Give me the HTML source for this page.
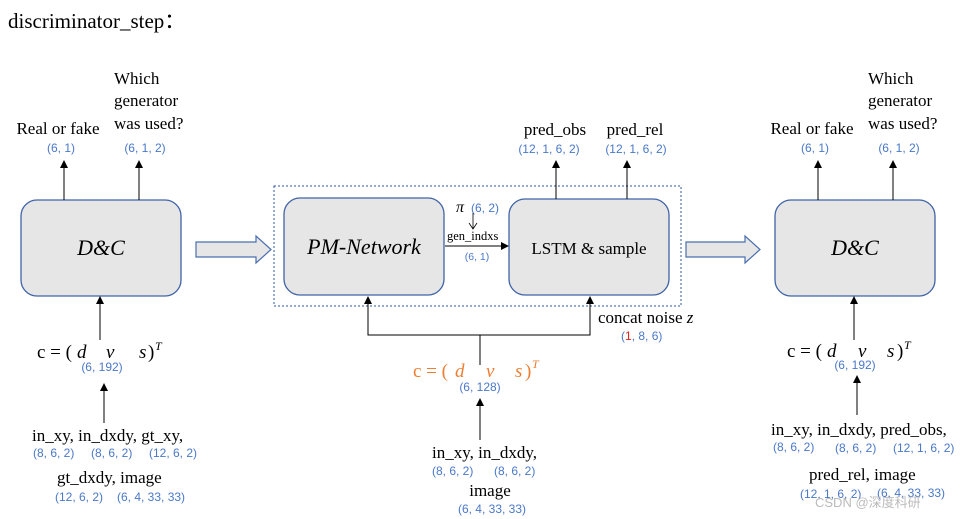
<!DOCTYPE html>
<html><head><meta charset="utf-8"><style>
html,body{margin:0;padding:0;background:#fff}
svg{display:block}
text{font-family:"Liberation Serif",serif;fill:#000}
.s{font-size:17px}
.b{fill:#4a78c8;font-size:12px;font-family:"Liberation Sans",sans-serif}
.i{font-style:italic}
.o{fill:#ed7d31}
.t{font-size:12px;font-style:italic}
</style></head><body>
<svg width="968" height="519" viewBox="0 0 968 519" xmlns="http://www.w3.org/2000/svg">
<defs><marker id="a" markerWidth="8" markerHeight="8" refX="7" refY="4" orient="auto" markerUnits="userSpaceOnUse"><path d="M0,0 L8,4 L0,8z" fill="#000"/></marker></defs>
<text x="8" y="28" style="font-size:21px">discriminator_step：</text>

<!-- Left D&C -->
<rect x="21" y="200" width="160" height="96" rx="16" fill="#e6e6e6" stroke="#3f63a6" stroke-width="1.3"/>
<text x="101" y="255" class="i" style="font-size:22px" text-anchor="middle">D&amp;C</text>
<line x1="64" y1="200" x2="64" y2="161" stroke="#000" marker-end="url(#a)"/>
<line x1="139" y1="200" x2="139" y2="161" stroke="#000" marker-end="url(#a)"/>
<text x="58" y="134" class="s" text-anchor="middle">Real or fake</text>
<text x="61" y="152" class="b" text-anchor="middle">(6, 1)</text>
<text x="114" y="84" class="s">Which</text>
<text x="114" y="106" class="s">generator</text>
<text x="114" y="129" class="s">was used?</text>
<text x="145" y="152" class="b" text-anchor="middle">(6, 1, 2)</text>
<line x1="100" y1="340" x2="100" y2="297" stroke="#000" marker-end="url(#a)"/>
<g class="s" style="font-size:19px"><text x="37" y="358" style="font-size:19px">c = (</text><text x="77" y="358" class="i" style="font-size:19px">d</text><text x="106" y="358" class="i" style="font-size:19px">v</text><text x="139" y="358" class="i" style="font-size:19px">s</text><text x="148" y="358" style="font-size:19px">)</text><text x="155" y="350" class="t">T</text></g>
<text x="102" y="371" class="b" text-anchor="middle">(6, 192)</text>
<line x1="104" y1="423" x2="104" y2="384" stroke="#000" marker-end="url(#a)"/>
<text x="32" y="441" class="s">in_xy, in_dxdy, gt_xy,</text>
<text x="33" y="457" class="b">(8, 6, 2)</text>
<text x="91" y="457" class="b">(8, 6, 2)</text>
<text x="149" y="457" class="b">(12, 6, 2)</text>
<text x="57" y="483" class="s">gt_dxdy, image</text>
<text x="55" y="501" class="b">(12, 6, 2)</text>
<text x="117" y="501" class="b">(6, 4, 33, 33)</text>

<!-- block arrow 1 -->
<path d="M196,242 L256,242 L256,236 L271,249.5 L256,263 L256,257 L196,257z" fill="#e6e6e6" stroke="#4a6fb0" stroke-width="1.2"/>

<!-- middle -->
<rect x="274" y="186" width="407" height="120" fill="none" stroke="#2f55a0" stroke-width="1" stroke-dasharray="2,2"/>
<rect x="284" y="198" width="160" height="97" rx="16" fill="#e6e6e6" stroke="#3f63a6" stroke-width="1.3"/>
<text x="364" y="254" class="i" style="font-size:22px" text-anchor="middle">PM-Network</text>
<rect x="509" y="199" width="160" height="96" rx="16" fill="#e6e6e6" stroke="#3f63a6" stroke-width="1.3"/>
<text x="589" y="254" style="font-size:17px" text-anchor="middle">LSTM &amp; sample</text>
<line x1="445" y1="246" x2="508" y2="246" stroke="#000" marker-end="url(#a)"/>
<text x="456" y="212" class="i" style="font-size:16px">π</text>
<text x="471" y="212" class="b">(6, 2)</text>
<path d="M473,213 L473,228 M469,223 L473,229 L477,223" stroke="#000" fill="none" stroke-width="0.8"/>
<text x="447" y="240" style="font-size:12.5px">gen_indxs</text>
<text x="477" y="260" class="b" style="font-size:10.5px" text-anchor="middle">(6, 1)</text>
<line x1="556" y1="199" x2="556" y2="161" stroke="#000" marker-end="url(#a)"/>
<line x1="627" y1="199" x2="627" y2="161" stroke="#000" marker-end="url(#a)"/>
<text x="555" y="135" class="s" text-anchor="middle">pred_obs</text>
<text x="635" y="135" class="s" text-anchor="middle">pred_rel</text>
<text x="549" y="153" class="b" text-anchor="middle">(12, 1, 6, 2)</text>
<text x="636" y="153" class="b" text-anchor="middle">(12, 1, 6, 2)</text>
<polyline points="368,297 368,335 590,335 590,298" fill="none" stroke="#000"/>
<line x1="368" y1="305" x2="368" y2="297" stroke="#000" marker-end="url(#a)"/>
<line x1="590" y1="305" x2="590" y2="297" stroke="#000" marker-end="url(#a)"/>
<line x1="480" y1="335" x2="480" y2="365" stroke="#000"/>
<text x="598" y="323" class="s">concat noise <tspan class="i">z</tspan></text>
<text x="621" y="340" class="b">(<tspan style="fill:#e02020">1</tspan>, 8, 6)</text>
<text x="413" y="377" class="o" style="font-size:19px">c = (</text><text x="455" y="377" class="i o" style="font-size:19px">d</text><text x="486" y="377" class="i o" style="font-size:19px">v</text><text x="515" y="377" class="i o" style="font-size:19px">s</text><text x="525" y="377" class="o" style="font-size:19px">)</text><text x="532" y="368" class="t o">T</text>
<text x="480" y="391" class="b" text-anchor="middle">(6, 128)</text>
<line x1="480" y1="440" x2="480" y2="399" stroke="#000" marker-end="url(#a)"/>
<text x="432" y="458" class="s">in_xy, in_dxdy,</text>
<text x="432" y="475" class="b">(8, 6, 2)</text>
<text x="494" y="475" class="b">(8, 6, 2)</text>
<text x="490" y="496" class="s" text-anchor="middle">image</text>
<text x="492" y="513" class="b" text-anchor="middle">(6, 4, 33, 33)</text>

<!-- block arrow 2 -->
<path d="M686,242 L745,242 L745,236 L760,249.5 L745,263 L745,257 L686,257z" fill="#e6e6e6" stroke="#4a6fb0" stroke-width="1.2"/>

<!-- Right D&C -->
<rect x="775" y="200" width="160" height="96" rx="16" fill="#e6e6e6" stroke="#3f63a6" stroke-width="1.3"/>
<text x="855" y="255" class="i" style="font-size:22px" text-anchor="middle">D&amp;C</text>
<line x1="818" y1="200" x2="818" y2="161" stroke="#000" marker-end="url(#a)"/>
<line x1="893" y1="200" x2="893" y2="161" stroke="#000" marker-end="url(#a)"/>
<text x="812" y="134" class="s" text-anchor="middle">Real or fake</text>
<text x="815" y="152" class="b" text-anchor="middle">(6, 1)</text>
<text x="868" y="84" class="s">Which</text>
<text x="868" y="106" class="s">generator</text>
<text x="868" y="129" class="s">was used?</text>
<text x="899" y="152" class="b" text-anchor="middle">(6, 1, 2)</text>
<line x1="854" y1="340" x2="854" y2="297" stroke="#000" marker-end="url(#a)"/>
<text x="787" y="357" style="font-size:19px">c = (</text><text x="827" y="357" class="i" style="font-size:19px">d</text><text x="858" y="357" class="i" style="font-size:19px">v</text><text x="887" y="357" class="i" style="font-size:19px">s</text><text x="897" y="357" style="font-size:19px">)</text><text x="904" y="349" class="t">T</text>
<text x="855" y="369" class="b" text-anchor="middle">(6, 192)</text>
<line x1="857" y1="415" x2="857" y2="376" stroke="#000" marker-end="url(#a)"/>
<text x="771" y="435" class="s">in_xy, in_dxdy, pred_obs,</text>
<text x="773" y="451" class="b">(8, 6, 2)</text>
<text x="835" y="452" class="b">(8, 6, 2)</text>
<text x="893" y="452" class="b">(12, 1, 6, 2)</text>
<text x="809" y="480" class="s">pred_rel, image</text>
<text x="800" y="498" class="b">(12, 1, 6, 2)</text>
<text x="877" y="497" class="b">(6, 4, 33, 33)</text>
<text x="815" y="507" style="font-size:13px;fill:#bbb;font-family:'Liberation Sans','Noto Sans CJK SC',sans-serif">CSDN @深度科研</text>
</svg>
</body></html>
